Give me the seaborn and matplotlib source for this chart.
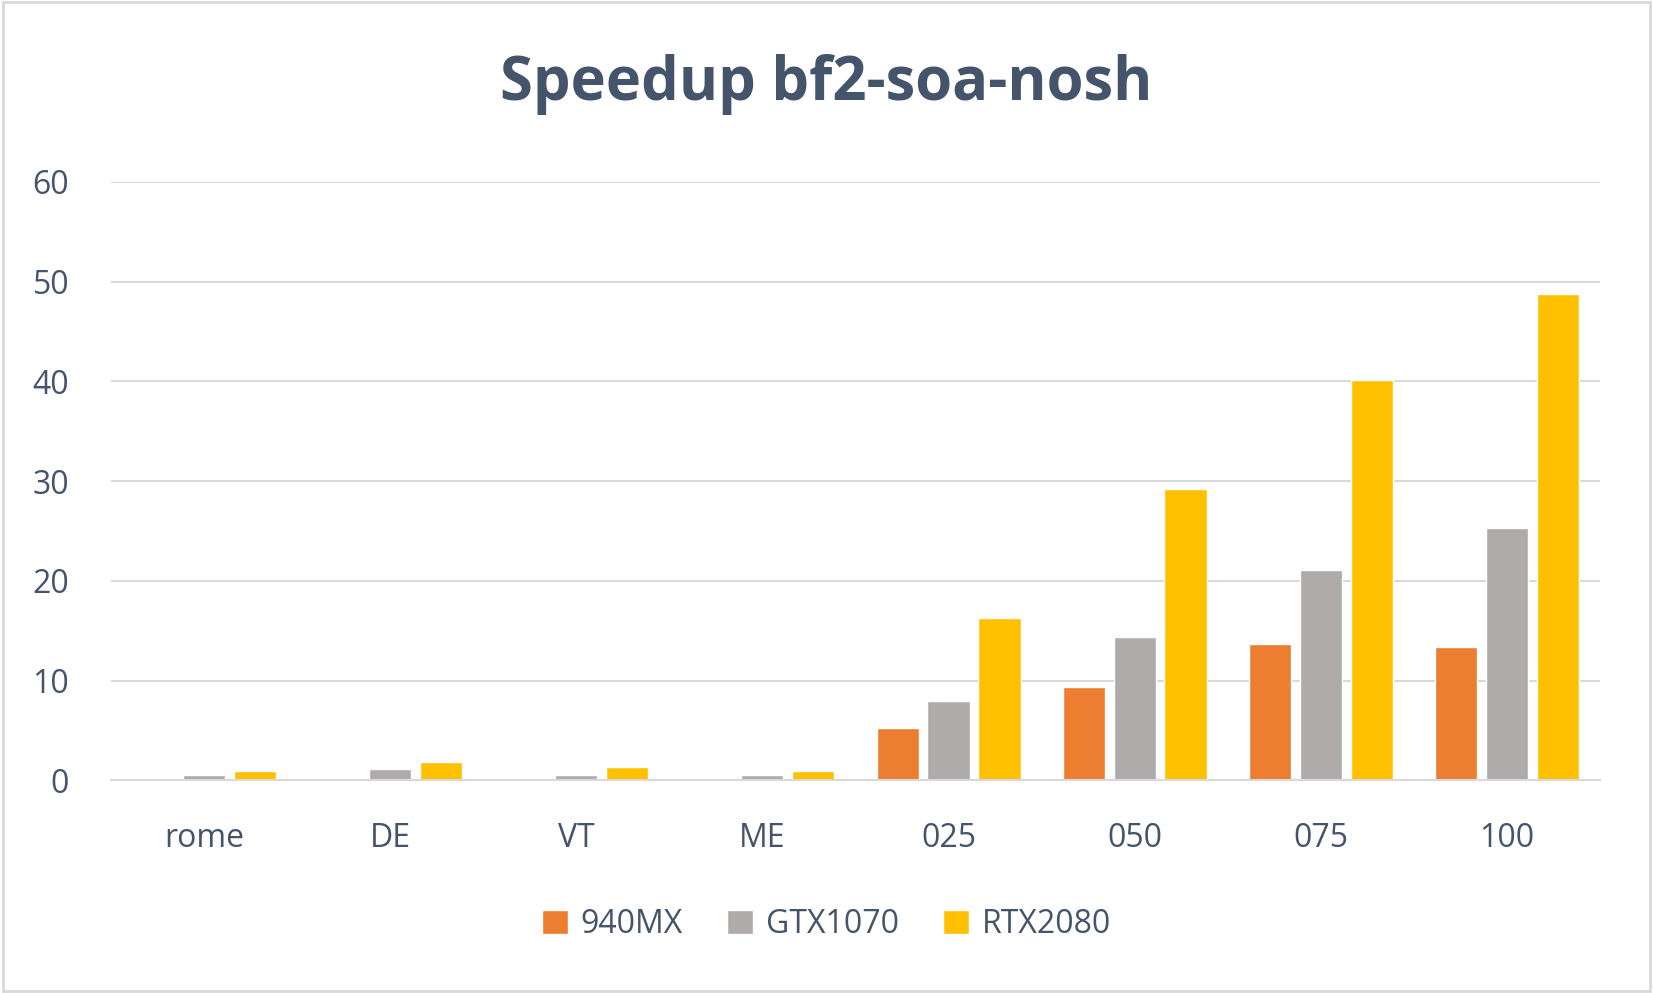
import matplotlib
matplotlib.use("Agg")
import matplotlib.pyplot as plt
import seaborn as sns
import pandas as pd

categories = ["rome", "DE", "VT", "ME", "025", "050", "075", "100"]
series_names = ["940MX", "GTX1070", "RTX2080"]
v_940mx = [0.2, 0.0, 0.0, 0.0, 5.3, 9.4, 13.7, 13.4]
v_gtx1070 = [0.6, 1.2, 0.6, 0.6, 8.0, 14.4, 21.1, 25.3]
v_rtx2080 = [1.0, 1.9, 1.4, 1.0, 16.3, 29.2, 40.1, 48.7]
colors = ["#ED7D31", "#AFABAB", "#FFC000"]

rows = []
for name, vals in zip(series_names, [v_940mx, v_gtx1070, v_rtx2080]):
    for c, v in zip(categories, vals):
        rows.append({"cat": c, "series": name, "value": v})
df = pd.DataFrame(rows)

sns.set_theme(style="white")
plt.rcParams["font.family"] = ["Open Sans", "DejaVu Sans"]

fig = plt.figure(figsize=(16.53, 9.93), dpi=100)
ax = fig.add_axes([0.067, 0.214, 0.901, 0.603])
sns.barplot(data=df, x="cat", y="value", hue="series", palette=colors,
            order=categories, hue_order=series_names, width=0.82, gap=0.17,
            saturation=1, ax=ax, legend=True)

ax.set_ylim(0, 60)
ax.set_yticks(range(0, 61, 10))
ax.yaxis.grid(True, color="#D9D9D9", linewidth=1.5)
ax.set_axisbelow(True)
for s in ["top", "right", "left"]:
    ax.spines[s].set_visible(False)
ax.spines["bottom"].set_color("#D9D9D9")
ax.spines["bottom"].set_linewidth(1.5)
ax.set_xlabel("")
ax.set_ylabel("")
ax.tick_params(axis="both", length=0, labelsize=23, pad=30)
ax.tick_params(axis="y", pad=30)
for t in ax.get_yticklabels() + ax.get_xticklabels():
    t.set_color("#44546A")
ax.set_xlim(-0.5, len(categories) - 0.5)

fig.text(0.5, 0.915, "Speedup bf2-soa-nosh", ha="center", va="center",
         fontsize=43, fontweight="bold", color="#44546A")

h, l = ax.get_legend_handles_labels()
ax.get_legend().remove()
leg = fig.legend(h, l, loc="center", bbox_to_anchor=(0.5, 0.069), ncol=3,
                 frameon=False, fontsize=23, handlelength=0.8, handleheight=0.8,
                 handletextpad=0.4, columnspacing=1.4)
for t in leg.get_texts():
    t.set_color("#44546A")

fig.patches.append(plt.Rectangle((0.002, 0.002), 0.996, 0.996, transform=fig.transFigure,
                                 fill=False, edgecolor="#D9D9D9", linewidth=2))
fig.savefig("out.png", dpi=100, facecolor="white")
